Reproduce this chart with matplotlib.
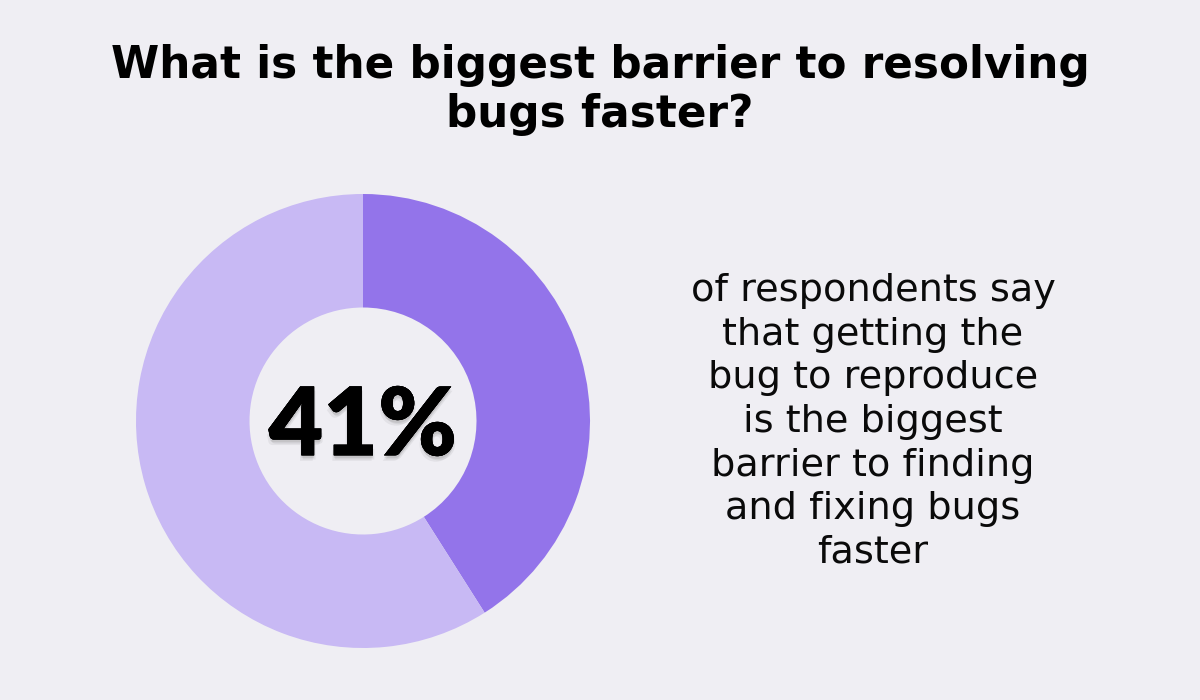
import matplotlib.pyplot as plt
import matplotlib.patheffects as pe

# data
labels = ['Bug reproduction', 'Other']
shares = [41, 59]
colors = ['#9374EA', '#C8B9F4']
big_number = '41%'
title_text = 'What is the biggest barrier to resolving\nbugs faster?'
side_text = ('of respondents say\nthat getting the\nbug to reproduce\nis the biggest\n'
             'barrier to finding\nand fixing bugs\nfaster')

bg = '#EFEEF3'

fig = plt.figure(figsize=(12, 7), dpi=100)
fig.patch.set_facecolor(bg)

# donut axes, placed in pixel terms (center 363,421 / radius 227)
cx, cy, r = 363, 421, 227
ax = fig.add_axes([(cx - r) / 1200, (700 - cy - r) / 700, 2 * r / 1200, 2 * r / 700])
ax.set_facecolor(bg)
ax.pie(shares, colors=colors, startangle=90, counterclock=False,
       wedgeprops=dict(width=0.5, linewidth=0))
ax.set_xlim(-1, 1)
ax.set_ylim(-1, 1)
ax.set_aspect('equal')
ax.axis('off')

shadow = [pe.withSimplePatchShadow(offset=(0, -2), shadow_rgbFace='black', alpha=0.08),
          pe.withSimplePatchShadow(offset=(1, -3), shadow_rgbFace='black', alpha=0.06),
          pe.withSimplePatchShadow(offset=(-1, -4), shadow_rgbFace='black', alpha=0.05),
          pe.Normal()]
ax.text(0, -0.03, big_number, ha='center', va='center', fontsize=68,
        fontweight='heavy', family='Lato', color='black', path_effects=shadow)

fig.text(0.5, 1 - 90 / 700, title_text, ha='center', va='center', fontsize=31.5,
         fontweight='bold', family='DejaVu Sans', color='black', linespacing=1.17)

fig.text(873 / 1200, 1 - 422 / 700, side_text, ha='center', va='center', fontsize=27.5,
         family='DejaVu Sans', color='#0a0a0a', linespacing=1.27)

plt.savefig('out.png', dpi=100, facecolor=bg)
plt.close()
